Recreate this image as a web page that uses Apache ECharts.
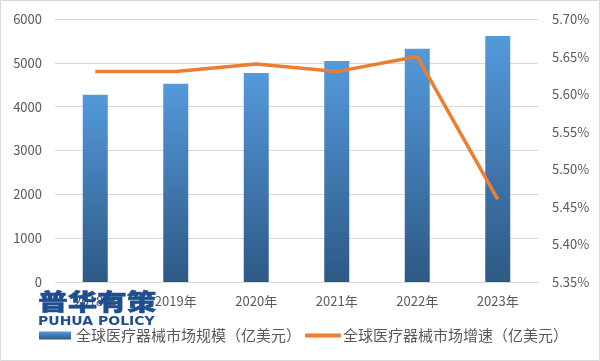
<!DOCTYPE html>
<html><head><meta charset="utf-8">
<script src="https://cdn.jsdelivr.net/npm/echarts@6/dist/echarts.min.js"></script>
<style>html,body{margin:0;padding:0;background:#fff}#c{width:600px;height:361px}</style>
</head><body><div id="c"></div>
<script>
const categories = ['2018年','2019年','2020年','2021年','2022年','2023年'];
const marketSize = [4270, 4520, 4770, 5040, 5320, 5610];
const growthRate = [5.63, 5.63, 5.64, 5.63, 5.65, 5.46];
const leftTicks = [0, 6000, 1000];
const rightTicksPct = [5.35, 5.70, 0.05];
const seriesNames = ['全球医疗器械市场规模（亿美元）', '全球医疗器械市场增速（亿美元）'];

const chart = echarts.init(document.getElementById('c'), null, {renderer:'canvas'});
const font = '"Microsoft YaHei","Noto Sans CJK SC","Noto Sans",sans-serif';
const labelColor = '#595959';
chart.setOption({
  animation:false,
  backgroundColor:'#fff',
  textStyle:{fontFamily:font},
  grid:{left:55, right:62, top:19, bottom:79},
  legend:[{
    left:34, top:323, itemWidth:32, itemHeight:8,
    textStyle:{fontSize:15, color:labelColor, fontFamily:font},
    data:[{name:seriesNames[0], icon:'rect'}]
  },{
    left:300, top:323, itemWidth:36, itemHeight:4,
    textStyle:{fontSize:15, color:labelColor, fontFamily:font, padding:[0,0,0,-3]},
    data:[{name:seriesNames[1], icon:'roundRect'}]
  }],
  xAxis:{
    type:'category', data:categories,
    axisLine:{lineStyle:{color:'#d9d9d9'}}, axisTick:{show:false},
    axisLabel:{color:labelColor, fontSize:13, margin:13}
  },
  yAxis:[{
    type:'value', min:leftTicks[0], max:leftTicks[1], interval:leftTicks[2],
    axisLine:{show:false}, axisTick:{show:false},
    axisLabel:{color:labelColor, fontSize:13, margin:13, formatter:v=>String(v)},
    splitLine:{lineStyle:{color:'#d9d9d9'}}
  },{
    type:'value', min:Math.round(rightTicksPct[0]*100), max:Math.round(rightTicksPct[1]*100), interval:Math.round(rightTicksPct[2]*100),
    axisLine:{show:false}, axisTick:{show:false},
    axisLabel:{color:labelColor, fontSize:13, margin:14, formatter:v=>(v/100).toFixed(2)+'%'},
    splitLine:{show:false}
  }],
  series:[{
    name:seriesNames[0], type:'bar', data:marketSize, barWidth:25,
    itemStyle:{color:new echarts.graphic.LinearGradient(0,0,0,1,[{offset:0,color:'#5499DB'},{offset:1,color:'#2D5985'}])}
  },{
    name:seriesNames[1], type:'line', yAxisIndex:1, data:growthRate.map(v=>Math.round(v*100)),
    symbol:'none', lineStyle:{color:'#ED7D31', width:3.5}, itemStyle:{color:'#ED7D31'}
  }],
  graphic:[
    {type:'rect', shape:{x:0.5,y:0.5,width:599,height:360}, style:{fill:'none', stroke:'#d9d9d9', lineWidth:1}, silent:true, z:-1},
    {type:'text', left:38, top:289, scaleX:1.18, scaleY:0.92, style:{text:'普华有策', fontSize:25, fontWeight:900, fill:'#1F4E8F', stroke:'#1F4E8F', lineWidth:0.6, fontFamily:font}, z:100},
    {type:'text', left:38, top:315, scaleX:1.12, style:{text:'PUHUA POLICY', fontSize:12.5, fontWeight:'bold', fill:'#1F4E8F', fontFamily:'"DejaVu Sans",sans-serif'}, z:100}
  ]
});
</script></body></html>
